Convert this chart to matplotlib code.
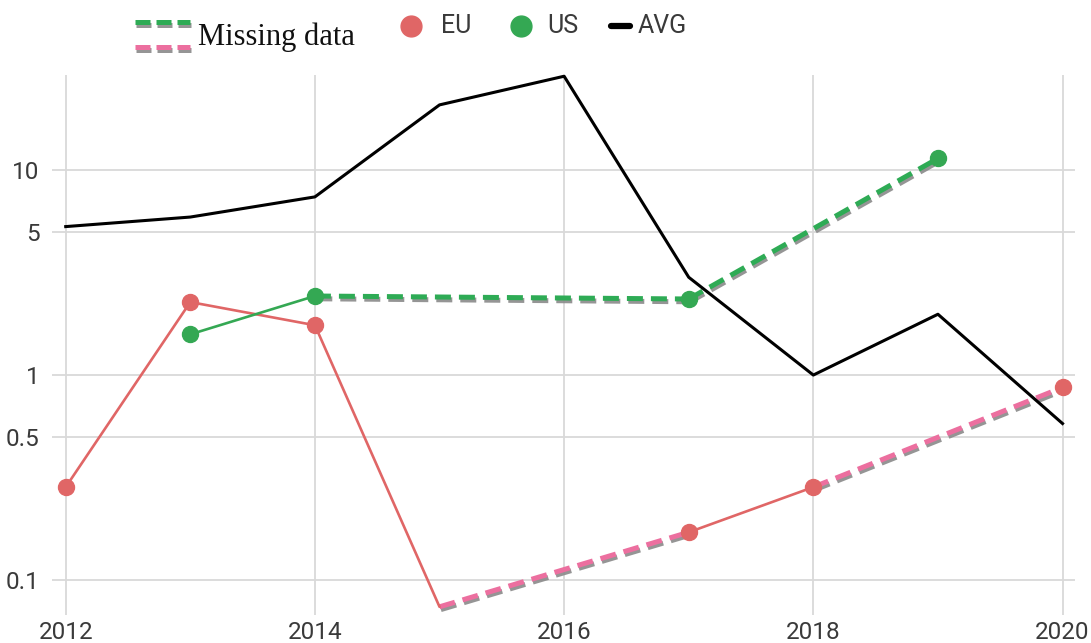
import numpy as np
import matplotlib
matplotlib.use("Agg")
import matplotlib.pyplot as plt
from matplotlib.lines import Line2D
import matplotlib.patheffects as pe

years = [2012, 2013, 2014, 2015, 2016, 2017, 2018, 2019, 2020]
avg = [5.3, 5.9, 7.4, 20.8, 28.7, 3.0, 1.0, 1.98, 0.58]
eu = [0.284, 2.27, 1.75, 0.074, np.nan, 0.171, 0.284, np.nan, 0.87]
us = [np.nan, 1.58, 2.43, np.nan, np.nan, 2.35, np.nan, 11.4, np.nan]
eu_no_marker_years = [2015]
x_ticks = [2012, 2014, 2016, 2018, 2020]
y_ticks = [0.1, 0.5, 1, 5, 10]
y_tick_labels = ["0.1", "0.5", "1", "5", "10"]

EU_C = "#e06666"
US_C = "#34a853"
PINK = "#ec6f9f"
GREEN_D = "#2eab55"

plt.rcParams['font.family'] = ['Roboto', 'DejaVu Sans']

W, H = 1091, 643
fig = plt.figure(figsize=(W/100, H/100), dpi=100)
ax = fig.add_axes([52/W, 1 - 615/H, (1075-52)/W, (615-75)/H])
ax.set_yscale('log')
ax.set_xlim(2011.89, 2020.10)
ax.set_ylim(0.0675, 29.1)

shadow = [pe.SimpleLineShadow(offset=(1, -2), shadow_color='#8a8a8a', alpha=0.9), pe.Normal()]

def draw_series(vals, color, dcolor, no_marker=()):
    pts = [(y, v) for y, v in zip(years, vals) if not np.isnan(v)]
    for (y0, v0), (y1, v1) in zip(pts[:-1], pts[1:]):
        if y1 - y0 == 1:
            ax.plot([y0, y1], [v0, v1], color=color, lw=1.9, zorder=3, solid_capstyle='round')
        else:
            ax.plot([y0, y1], [v0, v1], color=dcolor, lw=3.6, zorder=2.5,
                    dashes=(3.2, 1.6), path_effects=shadow)
    mx = [y for y, v in pts if y not in no_marker]
    my = [v for y, v in pts if y not in no_marker]
    ax.plot(mx, my, 'o', color=color, ms=11.5, zorder=4, clip_on=False)

draw_series(eu, EU_C, PINK, eu_no_marker_years)
draw_series(us, US_C, GREEN_D)
ax.plot(years, avg, color='black', lw=2.2, zorder=5, clip_on=False)

ax.set_xticks(x_ticks)
ax.set_xticklabels([str(t) for t in x_ticks])
ax.set_yticks(y_ticks)
ax.set_yticklabels(y_tick_labels)
ax.yaxis.set_minor_locator(matplotlib.ticker.NullLocator())
ax.tick_params(axis='both', length=0, labelsize=17.5, colors='#3a3a3a')
ax.tick_params(axis='x', pad=4)
ax.tick_params(axis='y', pad=9)
ax.grid(True, color='#d9d9d9', lw=1.3)
ax.set_axisbelow(True)
for s in ax.spines.values():
    s.set_visible(False)

def fx(px):
    return px / W

def fy(py):
    return 1 - py / H

# Legend: Missing data
for yy, c in [(22, GREEN_D), (47, PINK)]:
    ln = Line2D([fx(135), fx(190)], [fy(yy), fy(yy)], transform=fig.transFigure,
                color=c, lw=3.6, dashes=(3.0, 1.2), path_effects=shadow)
    fig.add_artist(ln)
fig.text(fx(198), fy(37), "Missing data", family=['Liberation Serif', 'DejaVu Serif'],
         fontsize=22, va='center', ha='left', color='#111111')

# Legend: EU / US / AVG
leg_y = 26
fs = 18
fig.add_artist(Line2D([fx(411)], [fy(leg_y)], transform=fig.transFigure, marker='o',
                      color=EU_C, ms=15, ls='none'))
fig.text(fx(441), fy(leg_y), "EU", fontsize=fs, va='center', ha='left', color='#3a3a3a')
fig.add_artist(Line2D([fx(521)], [fy(leg_y)], transform=fig.transFigure, marker='o',
                      color=US_C, ms=15, ls='none'))
fig.text(fx(547), fy(leg_y), "US", fontsize=fs, va='center', ha='left', color='#3a3a3a')
fig.add_artist(Line2D([fx(611), fx(630)], [fy(leg_y), fy(leg_y)], transform=fig.transFigure,
                      color='black', lw=4.5, solid_capstyle='round'))
fig.text(fx(638), fy(leg_y), "AVG", fontsize=fs, va='center', ha='left', color='#3a3a3a')

fig.savefig('out.png', dpi=100)
